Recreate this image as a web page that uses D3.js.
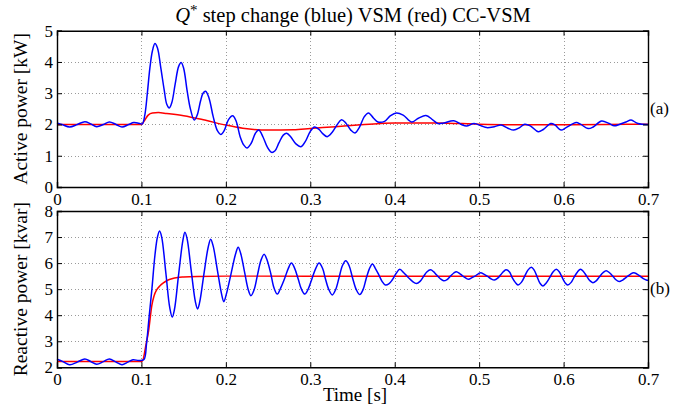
<!DOCTYPE html>
<html lang="en">
<head>
    <meta charset="UTF-8">
    <script src="https://d3js.org/d3.v7.min.js"></script>
    <title>VSM vs CC-VSM</title>
    <style>
        body { margin: 0; background: white; }
        svg text { font-family: "Liberation Serif", "DejaVu Serif", serif; fill: black; }
        .grid line { stroke: #9a9a9a; stroke-dasharray: 1,2.5; shape-rendering: crispEdges; }
        .axis path, .axis line { stroke: black; }
        .axis path { stroke-width: 1.4px; }
    </style>
</head>
<body>
    <div id="chart"></div>
    <script>
        // x ticks shared by both panels
        const timeTicks = [0, 0.1, 0.2, 0.3, 0.4, 0.5, 0.6, 0.7];
        const activeTicks = [0, 1, 2, 3, 4, 5];
        const reactiveTicks = [2, 3, 4, 5, 6, 7, 8];

        // (a) active power [kW], blue = VSM, red = CC-VSM  -> [time s, value]
        const activeVSM = [
            [0, 2.05], [0.006, 2.0], [0.015, 1.92], [0.024, 2.0], [0.033, 2.09], [0.040, 2.02], [0.047, 1.93],
            [0.055, 2.0], [0.062, 2.08], [0.070, 2.0], [0.077, 1.92], [0.085, 2.0], [0.091, 2.06], [0.097, 2.04],
            [0.101, 2.02], [0.104, 2.3], [0.107, 3.0], [0.110, 3.8], [0.113, 4.35], [0.116, 4.59], [0.119, 4.45],
            [0.123, 3.8], [0.127, 3.1], [0.130, 2.65], [0.133, 2.53], [0.136, 2.7], [0.140, 3.3], [0.144, 3.85],
            [0.147, 3.98], [0.150, 3.8], [0.154, 3.1], [0.158, 2.5], [0.1625, 2.14], [0.166, 2.3], [0.170, 2.75],
            [0.173, 3.0], [0.176, 3.06], [0.180, 2.85], [0.185, 2.25], [0.190, 1.8], [0.194, 1.68], [0.198, 1.8],
            [0.203, 2.15], [0.208, 2.28], [0.212, 2.12], [0.217, 1.6], [0.221, 1.35], [0.225, 1.25], [0.230, 1.4],
            [0.235, 1.72], [0.239, 1.82], [0.244, 1.6], [0.249, 1.28], [0.254, 1.11], [0.258, 1.15], [0.263, 1.42],
            [0.268, 1.66], [0.272, 1.72], [0.277, 1.6], [0.283, 1.38], [0.289, 1.29], [0.294, 1.45], [0.300, 1.78],
            [0.305, 1.92], [0.310, 1.85], [0.315, 1.7], [0.320, 1.61], [0.326, 1.75], [0.332, 2.0], [0.337, 2.15],
            [0.342, 2.05], [0.348, 1.82], [0.353, 1.73], [0.358, 1.9], [0.364, 2.25], [0.369, 2.37], [0.375, 2.2],
            [0.380, 2.08], [0.388, 2.1], [0.395, 2.28], [0.402, 2.37], [0.410, 2.3], [0.420, 2.08], [0.428, 2.2],
            [0.437, 2.29], [0.445, 2.15], [0.451, 2.03], [0.458, 2.05], [0.470, 2.12], [0.479, 2.0], [0.485, 1.95],
            [0.494, 2.03], [0.503, 1.95], [0.509, 1.9], [0.518, 1.93], [0.526, 1.98], [0.534, 1.88], [0.541, 1.82],
            [0.548, 1.9], [0.554, 2.01], [0.561, 1.95], [0.570, 1.77], [0.576, 1.84], [0.585, 2.03], [0.590, 1.98],
            [0.597, 1.82], [0.603, 1.9], [0.615, 2.06], [0.620, 2.01], [0.629, 1.87], [0.635, 1.92], [0.645, 2.11],
            [0.654, 2.03], [0.660, 1.96], [0.666, 2.0], [0.674, 2.08], [0.680, 2.14], [0.688, 2.03], [0.700, 2.0]
        ];
        const activeCCVSM = [
            [0, 2.0], [0.05, 2.0], [0.1, 2.0], [0.103, 2.1], [0.108, 2.3], [0.113, 2.37], [0.12, 2.38], [0.13, 2.35],
            [0.15, 2.28], [0.175, 2.14], [0.2, 1.98], [0.22, 1.88], [0.25, 1.82], [0.28, 1.83], [0.3, 1.87],
            [0.33, 1.93], [0.36, 1.99], [0.4, 2.05], [0.45, 2.05], [0.5, 2.01], [0.55, 1.99], [0.6, 1.99],
            [0.65, 2.0], [0.7, 2.01]
        ];

        // (b) reactive power [kvar]
        const reactiveVSM = [
            [0, 2.31], [0.007, 2.22], [0.015, 2.1], [0.024, 2.2], [0.033, 2.32], [0.040, 2.22], [0.047, 2.12],
            [0.055, 2.22], [0.062, 2.32], [0.070, 2.2], [0.077, 2.1], [0.084, 2.2], [0.090, 2.29], [0.097, 2.26],
            [0.103, 2.3], [0.106, 2.9], [0.109, 3.9], [0.1124, 5.0], [0.116, 6.3], [0.119, 7.0], [0.1215, 7.23],
            [0.124, 7.0], [0.129, 5.6], [0.1335, 4.3], [0.1365, 3.93], [0.139, 4.2], [0.144, 5.55], [0.149, 6.85],
            [0.1515, 7.18], [0.154, 6.95], [0.159, 5.7], [0.164, 4.5], [0.1665, 4.24], [0.169, 4.5], [0.174, 5.58],
            [0.179, 6.6], [0.182, 6.92], [0.185, 6.65], [0.190, 5.72], [0.195, 4.8], [0.1976, 4.52], [0.2005, 4.8],
            [0.206, 5.57], [0.2115, 6.35], [0.2146, 6.61], [0.2175, 6.38], [0.222, 5.68], [0.2265, 4.98],
            [0.2296, 4.75], [0.2335, 4.98], [0.2375, 5.55], [0.2415, 6.1], [0.2453, 6.34], [0.249, 6.1],
            [0.2533, 5.58], [0.257, 5.05], [0.261, 4.81], [0.265, 5.05], [0.2695, 5.4], [0.274, 5.8], [0.2777, 6.0],
            [0.2815, 5.8], [0.2856, 5.4], [0.2895, 5.0], [0.2935, 4.81], [0.2975, 5.0], [0.302, 5.4], [0.3065, 5.8],
            [0.3104, 6.0], [0.3145, 5.8], [0.318, 5.39], [0.322, 4.98], [0.326, 4.78], [0.330, 4.98], [0.334, 5.43],
            [0.338, 5.9], [0.342, 6.09], [0.346, 5.9], [0.350, 5.44], [0.3545, 4.98], [0.3586, 4.79], [0.3625, 4.98],
            [0.366, 5.38], [0.370, 5.78], [0.3736, 5.97], [0.377, 5.8], [0.381, 5.56], [0.385, 5.3], [0.389, 5.16],
            [0.393, 5.2], [0.397, 5.35], [0.402, 5.62], [0.406, 5.76], [0.411, 5.62], [0.416, 5.45], [0.421, 5.3],
            [0.4257, 5.22], [0.430, 5.3], [0.434, 5.48], [0.438, 5.66], [0.4426, 5.74], [0.446, 5.67], [0.450, 5.53],
            [0.454, 5.4], [0.458, 5.32], [0.462, 5.37], [0.466, 5.5], [0.470, 5.62], [0.473, 5.67], [0.477, 5.6],
            [0.480, 5.52], [0.484, 5.43], [0.4876, 5.38], [0.491, 5.43], [0.495, 5.5], [0.499, 5.59], [0.5018, 5.63],
            [0.506, 5.57], [0.510, 5.49], [0.514, 5.4], [0.518, 5.35], [0.522, 5.42], [0.5255, 5.55], [0.529, 5.68],
            [0.532, 5.74], [0.536, 5.66], [0.539, 5.45], [0.543, 5.25], [0.546, 5.16], [0.550, 5.26], [0.554, 5.5],
            [0.558, 5.74], [0.5618, 5.84], [0.565, 5.74], [0.5686, 5.48], [0.572, 5.23], [0.5755, 5.12], [0.579, 5.22],
            [0.5835, 5.44], [0.5875, 5.66], [0.5914, 5.76], [0.595, 5.66], [0.5982, 5.46], [0.6015, 5.26],
            [0.605, 5.16], [0.609, 5.26], [0.6125, 5.46], [0.6165, 5.66], [0.620, 5.76], [0.6237, 5.67],
            [0.6273, 5.5], [0.631, 5.33], [0.6347, 5.25], [0.6386, 5.32], [0.6426, 5.48], [0.6466, 5.63],
            [0.6505, 5.71], [0.6544, 5.63], [0.6583, 5.5], [0.662, 5.36], [0.666, 5.29], [0.670, 5.35],
            [0.6745, 5.46], [0.679, 5.57], [0.683, 5.63], [0.687, 5.58], [0.691, 5.49], [0.6945, 5.4], [0.698, 5.35],
            [0.7, 5.34]
        ];
        const reactiveCCVSM = [
            [0, 2.22], [0.05, 2.22], [0.1, 2.22], [0.102, 2.3], [0.105, 2.8], [0.1085, 3.4], [0.1124, 4.39],
            [0.115, 4.75], [0.118, 4.97], [0.122, 5.13], [0.126, 5.24], [0.131, 5.34], [0.136, 5.4], [0.143, 5.45],
            [0.150, 5.47], [0.166, 5.49], [0.2, 5.5], [0.3, 5.5], [0.4, 5.5], [0.5, 5.5], [0.6, 5.5], [0.7, 5.5]
        ];

        const width = 688, height = 412;
        const left = 57, right = 648;

        const svg = d3.select("#chart").append("svg")
            .attr("width", width)
            .attr("height", height);

        const x = d3.scaleLinear().domain([0, 0.7]).range([left, right]);

        const drawPanel = (top, bottom, yDomain, yTicks, vsm, ccvsm, ylabel, tag) => {
            const y = d3.scaleLinear().domain(yDomain).range([bottom, top]);
            const g = svg.append("g");

            // dotted grid
            const grid = g.append("g").attr("class", "grid");
            grid.selectAll(".gx").data(timeTicks.slice(1, -1)).enter().append("line")
                .attr("x1", d => Math.round(x(d)) + 0.5).attr("x2", d => Math.round(x(d)) + 0.5)
                .attr("y1", top).attr("y2", bottom);
            grid.selectAll(".gy").data(yTicks.slice(1, -1)).enter().append("line")
                .attr("x1", left).attr("x2", right)
                .attr("y1", d => Math.round(y(d)) + 0.5).attr("y2", d => Math.round(y(d)) + 0.5);

            const line = d3.line().x(d => x(d[0])).y(d => y(d[1]));

            g.append("path").datum(ccvsm)
                .attr("fill", "none").attr("stroke", "#ff0000").attr("stroke-width", 1.5)
                .attr("d", line.curve(d3.curveMonotoneX));
            g.append("path").datum(vsm)
                .attr("fill", "none").attr("stroke", "#0000ff").attr("stroke-width", 1.5)
                .attr("d", line.curve(d3.curveCatmullRom.alpha(0.5)));

            // axes, ticks pointing inward on all four sides
            g.append("g").attr("class", "axis")
                .attr("transform", `translate(0,${bottom})`)
                .call(d3.axisBottom(x).tickValues(timeTicks).tickFormat(d3.format("")).tickSize(-5).tickPadding(6))
                .selectAll("text").style("font-size", "17px");
            g.append("g").attr("class", "axis")
                .attr("transform", `translate(0,${top})`)
                .call(d3.axisTop(x).tickValues(timeTicks).tickFormat("").tickSize(-5));
            g.append("g").attr("class", "axis")
                .attr("transform", `translate(${left},0)`)
                .call(d3.axisLeft(y).tickValues(yTicks).tickFormat(d3.format("d")).tickSize(-5).tickPadding(4))
                .selectAll("text").style("font-size", "17px");
            g.append("g").attr("class", "axis")
                .attr("transform", `translate(${right},0)`)
                .call(d3.axisRight(y).tickValues(yTicks).tickFormat("").tickSize(-5));

            g.selectAll(".axis .domain").attr("stroke-width", 1.4);

            g.append("text")
                .attr("transform", `translate(27,${(top + bottom) / 2}) rotate(-90)`)
                .attr("text-anchor", "middle")
                .style("font-size", "19.5px")
                .text(ylabel);

            g.append("text")
                .attr("x", right + 2)
                .attr("y", (top + bottom) / 2 + 5)
                .style("font-size", "17px")
                .text(tag);
        };

        drawPanel(30.7, 187, [0, 5], activeTicks, activeVSM, activeCCVSM, "Active power [kW]", "(a)");
        drawPanel(211, 367.3, [2, 8], reactiveTicks, reactiveVSM, reactiveCCVSM, "Reactive power [kvar]", "(b)");

        // title with italic Q and superscript star
        const title = svg.append("text")
            .attr("x", 353)
            .attr("y", 22)
            .attr("text-anchor", "middle")
            .style("font-size", "20.5px");
        title.append("tspan").style("font-style", "italic").text("Q");
        title.append("tspan").attr("dy", -7).style("font-size", "15px").text("*");
        title.append("tspan").attr("dy", 7).text(" step change (blue) VSM (red) CC-VSM");

        svg.append("text")
            .attr("x", 355)
            .attr("y", 401)
            .attr("text-anchor", "middle")
            .style("font-size", "19px")
            .text("Time [s]");
    </script>
</body>
</html>
